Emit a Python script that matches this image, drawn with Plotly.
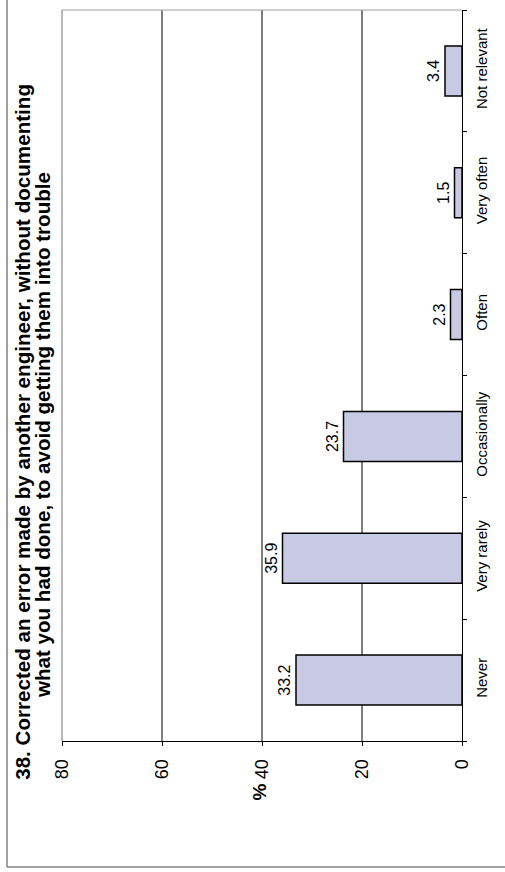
import plotly.graph_objects as go

categories = ["Never", "Very rarely", "Occasionally", "Often", "Very often", "Not relevant"]
values = [33.2, 35.9, 23.7, 2.3, 1.5, 3.4]
value_ticks = [0, 20, 40, 60, 80]
grid_values = [20, 40, 60]
grid_colors = ["#7f7f7f", "#7f7f7f", "#000000"]
grid_widths = [2, 2, 1]
title_lines = ["38. Corrected an error made by another engineer, without documenting",
               "what you had done, to avoid getting them into trouble"]

FONT = "Arial, 'Liberation Sans', sans-serif"

fig = go.Figure()

# gridlines (drawn through the x axis scale)
for gv, gc, gw in zip(grid_values, grid_colors, grid_widths):
    fig.add_shape(type="line", xref="x", yref="paper", x0=gv, x1=gv, y0=0, y1=1,
                  line=dict(color=gc, width=gw), layer="below")

fig.add_trace(go.Bar(
    y=categories, x=values, orientation="h",
    marker=dict(color="#c8c9e3", line=dict(color="black", width=1.5)),
    width=0.41,
    text=[f"{v:.1f}" for v in values],
    textposition="outside", textangle=-90,
    textfont=dict(family=FONT, size=16, color="black"),
    cliponaxis=False,
    hoverinfo="skip",
))

fig.update_layout(
    width=505, height=872,
    margin=dict(l=62, r=43, t=10, b=131),
    paper_bgcolor="white", plot_bgcolor="rgba(0,0,0,0)",
    showlegend=False,
    font=dict(family=FONT, color="black"),
    xaxis=dict(
        range=[80, 0], tickvals=value_ticks, ticktext=[str(v) for v in value_ticks],
        tickangle=-90, ticks="outside", ticklen=4, tickcolor="black",
        showline=True, linecolor="black", linewidth=1,
        showgrid=False, zeroline=False,
        ticklabelstandoff=6,
        tickfont=dict(family=FONT, size=18, color="black"),
    ),
    yaxis=dict(
        side="right", type="category", categoryorder="array", categoryarray=categories,
        tickangle=-90, ticks="outside", ticklen=4, tickcolor="black",
        tickson="boundaries",
        showline=True, linecolor="black", linewidth=1,
        showgrid=False, zeroline=False,
        ticklabelstandoff=6,
        tickfont=dict(family=FONT, size=15, color="black"),
    ),
    bargap=0.59,
)

# plot area top/left border (gray)
fig.add_shape(type="line", xref="paper", yref="paper", x0=0, x1=1, y0=1, y1=1,
              line=dict(color="#a0a0a0", width=1))
fig.add_shape(type="line", xref="paper", yref="paper", x0=0, x1=0, y0=0, y1=1,
              line=dict(color="#a0a0a0", width=1.5))

# outer chart frame (left and bottom visible)
fig.add_shape(type="line", xref="paper", yref="paper", x0=-0.1375, x1=-0.1375, y0=-0.1724, y1=1.1,
              line=dict(color="#808080", width=1.5))
fig.add_shape(type="line", xref="paper", yref="paper", x0=-0.1375, x1=1.2, y0=-0.1724, y1=-0.1724,
              line=dict(color="#808080", width=1.5))

# axis title "%"
fig.add_annotation(x=40.5, xref="x", y=-0.0698, yref="paper", text="<b>%</b>",
                   textangle=-90, showarrow=False,
                   xanchor="center", yanchor="middle",
                   font=dict(family=FONT, size=19, color="black"))

# title, rotated, one annotation per line for tight line spacing
for xpos, ypos, line in zip([-0.0975, -0.049], [0.423, 0.419], title_lines):
    fig.add_annotation(x=xpos, xref="paper", y=ypos, yref="paper",
                       text="<b>" + line + "</b>",
                       textangle=-90, showarrow=False, align="center",
                       xanchor="center", yanchor="middle",
                       font=dict(family=FONT, size=20.6, color="black"))

fig.write_html("out.html", config={"displayModeBar": False},
               post_script="document.body.style.margin='0px';")
